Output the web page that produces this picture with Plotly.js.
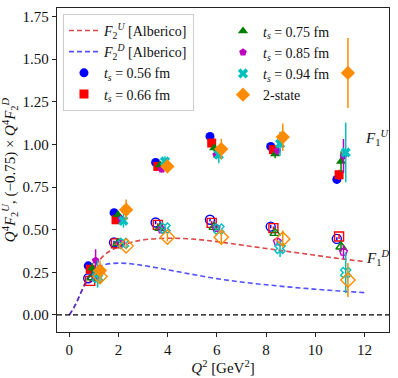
<!DOCTYPE html>
<html>
<head>
<meta charset="utf-8">
<script src="https://cdn.plot.ly/plotly-3.0.1.min.js"></script>
<style>body{margin:0;background:#fff}#chart{width:398px;height:378px}</style>
</head>
<body>
<div id="chart"></div>
<script>
// Alberico curves
const curveQ = [0, 0.25, 0.5, 0.75, 1.0, 1.25, 1.5, 2, 2.5, 3, 4, 5, 6, 7, 8, 9, 10, 11, 12];
const curveU = [0, 0.06, 0.14, 0.22, 0.28, 0.325, 0.36, 0.40, 0.425, 0.44, 0.45, 0.445, 0.43, 0.41, 0.39, 0.37, 0.35, 0.33, 0.313];
const curveD = [0, 0.06, 0.14, 0.21, 0.26, 0.285, 0.297, 0.304, 0.30, 0.29, 0.265, 0.238, 0.213, 0.193, 0.177, 0.163, 0.151, 0.14, 0.131];

// lattice points, one row per source-sink separation
const labels = ['<i>t<sub>s</sub></i> = 0.56 fm', '<i>t<sub>s</sub></i> = 0.66 fm', '<i>t<sub>s</sub></i> = 0.75 fm',
                '<i>t<sub>s</sub></i> = 0.85 fm', '<i>t<sub>s</sub></i> = 0.94 fm', '2-state'];
const colors = ['#0000ff', '#ff0000', '#008000', '#bf00bf', '#00bfbf', '#ff8c00'];
const symbols = ['circle', 'square', 'triangle-up', 'pentagon', 'x', 'diamond'];
const sizes = [9, 9, 9, 8, 9, 11];

const q2 = [
  [0.77, 1.82, 3.51, 5.72, 8.19, 10.88],
  [0.85, 1.90, 3.60, 5.79, 8.30, 10.97],
  [0.93, 1.98, 3.69, 5.89, 8.37, 11.05],
  [1.07, 2.10, 3.76, 5.97, 8.46, 11.15],
  [1.15, 2.20, 3.89, 6.08, 8.57, 11.24],
  [1.25, 2.31, 3.99, 6.18, 8.68, 11.33]
];
const valU = [
  [0.288, 0.600, 0.894, 1.047, 0.988, 0.795],
  [0.268, 0.558, 0.871, 1.008, 0.969, 0.822],
  [0.274, 0.587, 0.880, 0.979, 0.944, 0.900],
  [0.320, 0.562, 0.855, 0.940, 0.965, 0.932],
  [0.240, 0.552, 0.900, 0.940, 1.004, 0.953],
  [0.260, 0.617, 0.871, 0.973, 1.043, 1.419]
];
const errU = [
  [0.02, 0.02, 0.015, 0.015, 0.02, 0.025],
  [0.02, 0.02, 0.015, 0.015, 0.02, 0.03],
  [0.03, 0.02, 0.02, 0.02, 0.025, 0.06],
  [0.065, 0.025, 0.02, 0.025, 0.03, 0.10],
  [0.08, 0.04, 0.03, 0.05, 0.07, 0.175],
  [0.06, 0.06, 0.04, 0.06, 0.08, 0.205]
];
const valD = [
  [0.215, 0.425, 0.542, 0.558, 0.518, 0.446],
  [0.200, 0.420, 0.528, 0.540, 0.509, 0.460],
  [0.220, 0.420, 0.509, 0.515, 0.480, 0.400],
  [0.230, 0.420, 0.500, 0.510, 0.430, 0.370],
  [0.220, 0.420, 0.509, 0.503, 0.390, 0.248],
  [0.225, 0.405, 0.456, 0.456, 0.445, 0.205]
];
const errD = [
  [0.01, 0.01, 0.01, 0.01, 0.01, 0.01],
  [0.01, 0.01, 0.01, 0.01, 0.01, 0.015],
  [0.015, 0.01, 0.01, 0.01, 0.015, 0.03],
  [0.02, 0.015, 0.01, 0.015, 0.02, 0.04],
  [0.05, 0.02, 0.015, 0.02, 0.05, 0.12],
  [0.04, 0.02, 0.025, 0.035, 0.05, 0.10]
];

const font = {family: 'Liberation Serif, DejaVu Serif, serif', size: 14, color: '#111'};
const traces = [];

traces.push({x: curveQ, y: curveU, type: 'scatter', mode: 'lines', line: {shape: 'spline', color: 'rgba(214,39,40,0.85)', dash: '5px,3px', width: 1.6},
  name: '<i>F</i><sub>2</sub><sup><i>U</i></sup> [Alberico]', legend: 'legend'});
traces.push({x: curveQ, y: curveD, type: 'scatter', mode: 'lines', line: {shape: 'spline', color: 'rgba(40,40,255,0.8)', dash: '5px,3px', width: 1.6},
  name: '<i>F</i><sub>2</sub><sup><i>D</i></sup> [Alberico]', legend: 'legend'});

for (let i = 0; i < labels.length; i++) {
  traces.push({x: q2[i], y: valU[i], type: 'scatter', mode: 'markers', name: labels[i],
    legend: i < 2 ? 'legend' : 'legend2',
    marker: {symbol: symbols[i], size: sizes[i], color: colors[i]},
    error_y: {type: 'data', array: errU[i], color: colors[i], thickness: 1.5, width: 0}});
  traces.push({x: q2[i], y: valD[i], type: 'scatter', mode: 'markers', showlegend: false,
    marker: {symbol: symbols[i] + '-open', size: sizes[i], color: colors[i], line: {width: 1.4}},
    error_y: {type: 'data', array: errD[i], color: colors[i], thickness: 1.5, width: 0}});
}

const layout = {
  width: 398, height: 378,
  margin: {l: 57, r: 9, t: 8, b: 46},
  paper_bgcolor: '#fff', plot_bgcolor: '#fff',
  font: font,
  showlegend: true,
  xaxis: {range: [-0.5, 13], tickvals: [0, 2, 4, 6, 8, 10, 12], showgrid: false, zeroline: false,
    showline: true, mirror: true, linecolor: '#222', linewidth: 1.2, ticks: 'outside', ticklen: 4, tickcolor: '#222',
    tickfont: {size: 15}, title: {text: '<i>Q</i><sup>2</sup> [GeV<sup>2</sup>]', font: {size: 15}, standoff: 2}},
  yaxis: {range: [-0.1, 1.8], tickvals: [0, 0.25, 0.5, 0.75, 1.0, 1.25, 1.5, 1.75], tickformat: '.2f', showgrid: false, zeroline: false,
    showline: true, mirror: true, linecolor: '#222', linewidth: 1.2, ticks: 'outside', ticklen: 4, tickcolor: '#222',
    tickfont: {size: 15},
    title: {text: '<i>Q</i><sup>4</sup><i>F</i><sub>2</sub><sup><i>U</i></sup>, (−0.75) × <i>Q</i><sup>4</sup><i>F</i><sub>2</sub><sup><i>D</i></sup>', font: {size: 15}, standoff: 6}},
  shapes: [{type: 'line', xref: 'paper', x0: 0, x1: 1, yref: 'y', y0: 0, y1: 0, line: {color: '#000', width: 1.3, dash: '5px,3px'}}],
  annotations: [
    {x: 12.5, y: 1.04, xref: 'x', yref: 'y', text: '<i>F</i><sub>1</sub><sup><i>U</i></sup>', showarrow: false, font: {size: 15}},
    {x: 12.55, y: 0.335, xref: 'x', yref: 'y', text: '<i>F</i><sub>1</sub><sup><i>D</i></sup>', showarrow: false, font: {size: 15}}
  ],
  legend: {x: 0.018, y: 0.982, xanchor: 'left', yanchor: 'top', bgcolor: '#fff', bordercolor: '#ccc', borderwidth: 1,
    font: {size: 14}, entrywidth: 228, tracegroupgap: 0},
  legend2: {x: 0.5, y: 0.977, xanchor: 'left', yanchor: 'top', bgcolor: 'rgba(0,0,0,0)', borderwidth: 0,
    font: {size: 14}, tracegroupgap: 0}
};

Plotly.newPlot('chart', traces, layout, {displayModeBar: false, staticPlot: true});
</script>
</body>
</html>
